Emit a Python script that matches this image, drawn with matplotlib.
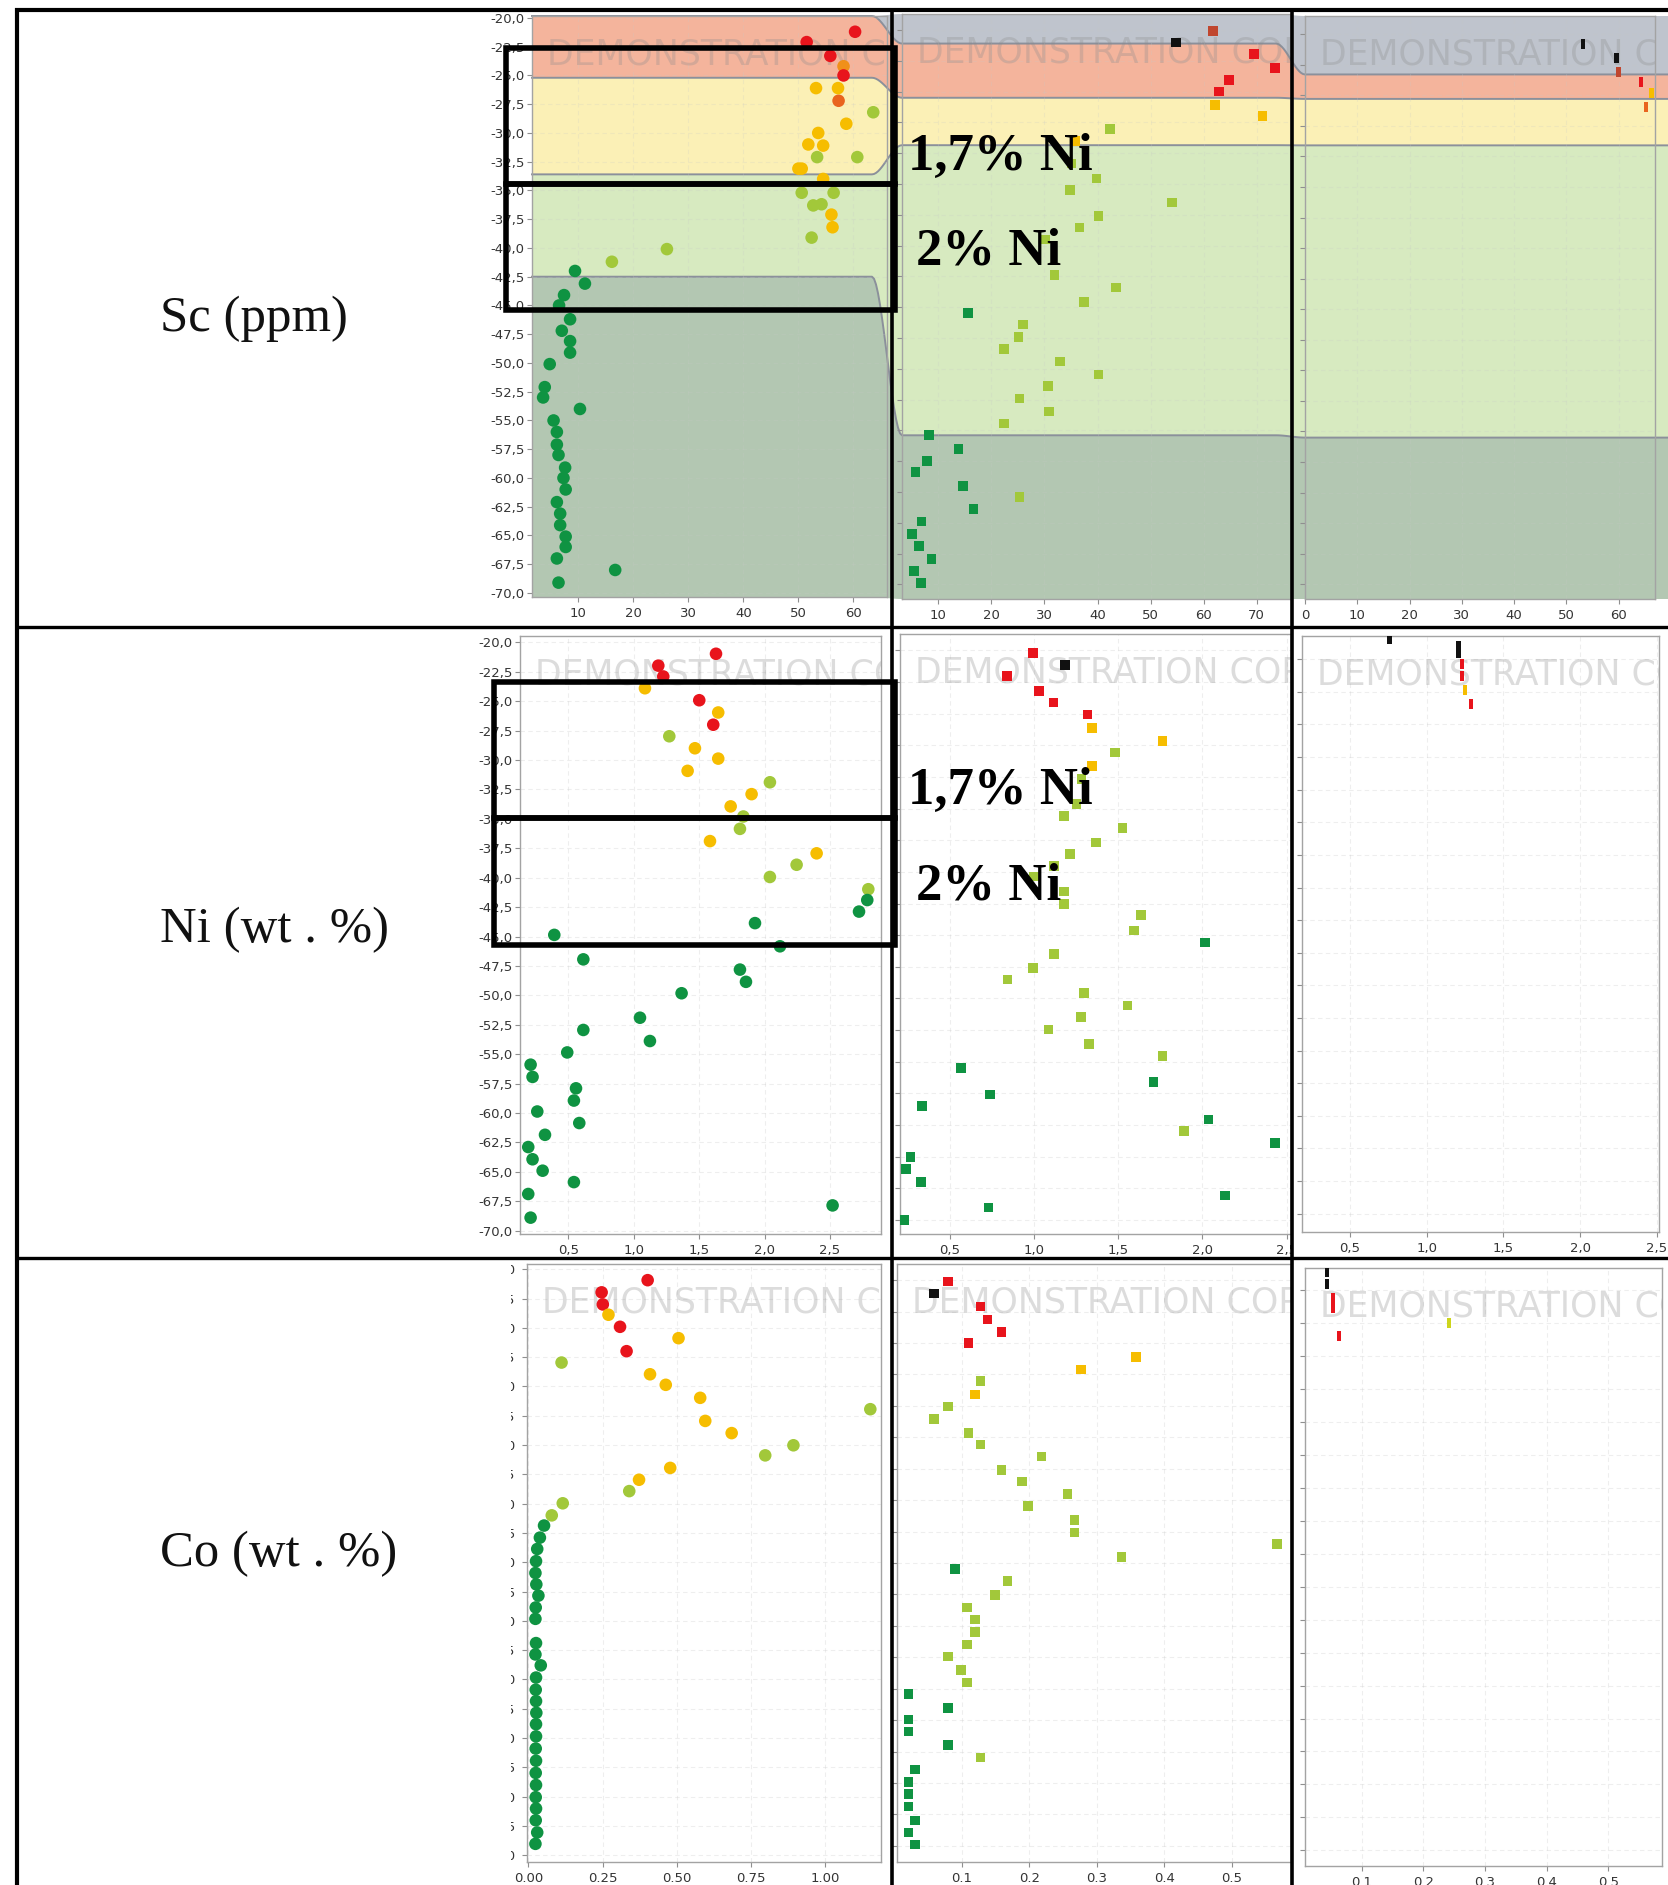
import numpy as np
import matplotlib
matplotlib.use("Agg")
import matplotlib.pyplot as plt
from matplotlib.patches import Rectangle
from matplotlib.transforms import Bbox, TransformedBbox

W, H, DPI = 1668, 1885, 100

# ------------------------------------------------------------------ data
# grade classes: R red, B brick, O red-orange, o orange, Y amber,
# g yellow-green, l lime, G green, K black
GRADE_COLOURS = {"R": "#e8141c", "B": "#c0462e", "O": "#e9641e", "o": "#f0901a",
                 "Y": "#f6bd00", "g": "#a2c83a", "l": "#cdd51c", "G": "#0f9342",
                 "K": "#111111"}

# Sc (ppm) against depth (m)
sc_h1_x = [60.3, 51.5, 55.8, 58.2, 58.2, 57.3,
           53.2, 57.2, 58.7, 53.6, 51.8, 54.5, 50.0, 50.6, 54.5, 56.0, 56.2,
           63.6, 53.4, 60.7, 50.6, 52.7, 54.2, 56.4, 52.4, 26.1, 16.1,
           9.4, 11.2, 7.4, 6.5, 8.5, 7.0, 8.5, 8.5, 4.8, 3.9, 3.6, 10.3, 5.5, 6.1,
           6.1, 6.4, 7.6, 7.3, 7.7, 6.1, 6.7, 6.7, 7.7, 7.7, 6.1, 6.4, 16.7]
sc_h1_depth = [-21.2, -22.1, -23.3, -24.2, -25.0, -27.2,
               -26.1, -26.1, -29.2, -30.0, -31.0, -31.1, -33.1, -33.1, -34.0, -37.1, -38.2,
               -28.2, -32.1, -32.1, -35.2, -36.3, -36.2, -35.2, -39.1, -40.1, -41.2,
               -42.0, -43.1, -44.1, -45.0, -46.2, -47.2, -48.1, -49.1, -50.1, -52.1, -53.0,
               -54.0, -55.0, -56.0, -57.1, -58.0, -59.1, -60.0, -61.0, -62.1, -63.1, -64.1,
               -65.1, -66.0, -67.0, -69.1, -68.0]
sc_h1_grade = "RRRoRO" + "Y" * 11 + "g" * 10 + "G" * 27

sc_h2_x = [61.8, 54.8, 69.5, 73.4, 64.8, 62.9, 62.1, 71.1, 35.75,
           42.3, 35.1, 39.8, 34.8, 54.0, 40.2, 36.6, 30.1, 31.9, 43.5, 37.5, 26.0, 25.1,
           22.4, 32.9, 40.2, 30.7, 25.3, 30.85, 22.4, 25.3,
           15.65, 8.3, 13.8, 7.9, 5.67, 14.6, 16.6, 6.86, 5.1, 6.4, 8.74, 5.4, 6.7]
sc_h2_depth = [-20.1, -21.0, -21.96, -23.1, -24.07, -24.99, -26.1, -27.0, -29.03,
               -28.05, -30.85, -32.06, -32.97, -34.0, -35.1, -36.04, -37.0, -39.9, -40.9,
               -42.07, -43.9, -44.93, -45.9, -46.9, -47.97, -48.9, -49.9, -50.96, -51.94,
               -57.9,
               -42.98, -52.9, -54.0, -54.97, -55.9, -57.0, -58.9, -59.9, -60.9, -61.9,
               -62.93, -63.9, -64.88]
sc_h2_grade = "BKRRRRYYY" + "g" * 21 + "G" * 13

sc_h3_x = [53.2, 59.6, 60.0, 64.3, 65.3, 66.3]
sc_h3_depth = [-20.8, -21.97, -23.06, -23.94, -26.0, -24.8]
sc_h3_grade = "KKBROY"

# Ni (wt %) against depth (m)
ni_h1_x = [1.629, 1.188, 1.226, 1.501, 1.608,
           1.086, 1.646, 1.468, 1.646, 1.412, 1.901, 1.741, 1.583, 2.398,
           1.272, 2.041, 1.838, 1.812, 2.245, 2.041, 2.793,
           2.785, 2.722, 1.927, 0.393, 2.118, 0.615, 1.812, 1.858, 1.366, 1.048, 1.124,
           0.615, 0.492, 0.212, 0.227, 0.559, 0.543, 0.263, 0.584, 0.322, 0.194, 0.227,
           0.304, 0.543, 0.194, 0.212, 2.52]
ni_h1_depth = [-20.97, -21.98, -22.9, -24.92, -27.0,
               -23.9, -25.96, -29.0, -29.88, -30.92, -32.9, -33.94, -36.89, -37.93,
               -27.98, -31.89, -34.8, -35.85, -38.9, -39.94, -40.98,
               -41.9, -42.88, -43.86, -44.86, -45.83, -46.94, -47.81, -48.85, -49.82,
               -51.9, -53.88, -52.94, -54.85, -55.89, -56.93, -57.9, -58.94, -59.87,
               -60.85, -61.85, -62.89, -63.93, -64.9, -65.87, -66.88, -68.89, -67.85]
ni_h1_grade = "RRRRR" + "Y" * 9 + "g" * 7 + "G" * 27

ni_h2_x = [0.995, 0.837, 1.029, 1.114, 1.316, 1.183, 1.342, 1.763, 1.342,
           1.48, 1.282, 1.252, 1.177, 1.525, 1.367, 1.212, 1.118, 0.999, 1.177, 1.177,
           1.633, 1.595, 1.118, 0.995, 0.841, 1.297, 1.554, 1.277, 1.085, 1.327, 1.763,
           1.89,
           2.015, 0.565, 0.737, 1.708, 0.332, 2.035, 2.431, 0.266, 0.237, 0.326, 2.134,
           0.728, 0.227]
ni_h2_depth = [-20.19, -22.0, -23.2, -24.1, -25.05, -21.16, -26.11, -27.15, -29.14,
               -28.07, -30.16, -32.16, -33.07, -34.04, -35.17, -36.08, -37.05, -37.86,
               -39.06, -40.03, -40.93, -42.13, -44.01, -45.11, -46.01, -47.05, -48.05,
               -48.99, -49.96, -51.1, -52.07, -57.99,
               -43.08, -53.0, -55.1, -54.1, -56.0, -57.08, -58.95, -60.03, -61.0, -62.03,
               -63.09, -64.03, -65.0]
ni_h2_grade = "RRRRRKYYY" + "g" * 23 + "G" * 13

ni_h3_x = [0.757, 1.207, 1.207, 1.228, 1.228, 1.25, 1.289]
ni_h3_depth = [-18.44, -18.97, -19.53, -20.4, -21.25, -22.34, -23.44]
ni_h3_grade = "KKKRRYR"

# Co (wt %) against depth (m)
co_h1_x = [0.402, 0.247, 0.251, 0.309, 0.331,
           0.270, 0.506, 0.410, 0.463, 0.579, 0.596, 0.685, 0.478, 0.373,
           0.112, 1.152, 0.893, 0.798, 0.340, 0.116, 0.079,
           0.053, 0.039, 0.030, 0.026, 0.024, 0.027, 0.034, 0.025, 0.024, 0.026, 0.024,
           0.042, 0.026, 0.025, 0.026, 0.027, 0.026, 0.026, 0.025, 0.026, 0.025, 0.026,
           0.025, 0.026, 0.025, 0.030, 0.024]
co_h1_depth = [-20.93, -21.97, -23.0, -24.91, -26.99,
               -23.88, -25.88, -28.96, -29.86, -30.97, -32.94, -33.98, -36.95, -37.96,
               -27.96, -31.94, -35.02, -35.88, -38.93, -39.97, -41.0,
               -41.87, -42.9, -43.87, -44.91, -45.92, -46.89, -47.85, -48.86, -49.83,
               -51.9, -52.87, -53.8, -54.84, -55.88, -56.85, -57.85, -58.82, -59.86,
               -60.9, -61.94, -62.98, -64.01, -65.05, -66.02, -67.02, -68.06, -69.03]
co_h1_grade = "RRRRR" + "Y" * 9 + "g" * 7 + "G" * 27

co_h2_x = [0.080, 0.128, 0.138, 0.159, 0.110, 0.059, 0.358, 0.277, 0.120,
           0.128, 0.080, 0.059, 0.110, 0.128, 0.218, 0.159, 0.189, 0.257, 0.198, 0.267,
           0.267, 0.567, 0.337, 0.168, 0.149, 0.108, 0.120, 0.120, 0.108, 0.080, 0.099,
           0.108, 0.128,
           0.090, 0.021, 0.080, 0.021, 0.021, 0.080, 0.031, 0.021, 0.021, 0.021, 0.031,
           0.021, 0.031]
co_h2_depth = [-20.1, -22.1, -23.13, -24.1, -25.0, -21.06, -26.13, -27.1, -29.1,
               -28.0, -30.06, -31.03, -32.16, -33.06, -34.03, -35.1, -36.03, -37.0, -37.97,
               -39.1, -40.06, -40.97, -42.03, -43.94, -45.06, -46.03, -47.0, -48.0, -48.97,
               -49.94, -51.03, -52.0, -57.97,
               -43.0, -52.9, -54.03, -54.94, -55.9, -57.0, -58.94, -59.94, -60.9, -61.87,
               -63.0, -63.94, -64.9]
co_h2_grade = "RRRRRKYYY" + "g" * 24 + "G" * 13

co_h3_x = [0.0432, 0.0432, 0.053, 0.053, 0.0632, 0.242]
co_h3_depth = [-18.62, -19.54, -20.55, -21.38, -23.48, -22.52]
co_h3_grade = "KKRRRl"

# weathering-profile zones behind the Sc logs (top of each zone below the cover)
zone_colours = ["#bfc4cd", "#f4b49c", "#fbf0b6", "#d7eac0", "#b3c7b2"]
zone_contacts_h1 = [-19.8, -25.2, -33.6, -42.5]
zone_contacts_h2 = [-21.1, -25.5, -29.35, -52.9]
zone_contacts_h3 = [-23.3, -25.3, -29.1, -53.0]

row_titles = ["Sc (ppm)", "Ni (wt . %)", "Co (wt . %)"]
cutoff_labels = ["1,7% Ni", "2% Ni"]
# depth windows of the cut-off boxes, Sc log and Ni log of hole 1
sc_cutoff_depths = [(-22.6, -34.4), (-34.4, -45.4)]
ni_cutoff_depths = [(-23.4, -34.9), (-34.9, -45.7)]
watermark = "DEMONSTRATION COPY"


# ------------------------------------------------------------------ helpers
def int_fmt(v):
    return str(int(round(v)))


def comma1(v):
    return f"{v:.1f}".replace(".", ",")


def dot2(v):
    return f"{v:.2f}"


def dot1(v):
    return f"{v:.1f}"


fig = plt.figure(figsize=(W / DPI, H / DPI), dpi=DPI)
fig.patch.set_facecolor("white")

RECT_MARKER = [(-0.42, -1), (0.42, -1), (0.42, 1), (-0.42, 1), (-0.42, -1)]


def add_panel(box, xlim, ylim, xticks, xfmt, ylabels, kind, data, transparent):
    l, t, r, b = box
    ax = fig.add_axes([l / W, 1 - b / H, (r - l) / W, (b - t) / H], zorder=2)
    ax.set_xlim(*xlim)
    ax.set_ylim(*ylim)
    ax.set_facecolor("none" if transparent else "white")
    for s in ax.spines.values():
        s.set_color("#a3a3a3")
        s.set_linewidth(1.0)
    ax.tick_params(direction="out", length=3.5, width=0.8, color="#8f8f8f",
                   labelsize=9.5, labelcolor="#343434")
    ax.tick_params(axis="y", pad=2)
    ax.tick_params(axis="x", pad=4)
    ax.set_xticks(xticks)
    ax.set_xticklabels([xfmt(v) for v in xticks])
    yt = np.arange(-20.0, ylim[0] - 1e-9, -2.5)
    ax.set_yticks(yt)
    if ylabels:
        ax.set_yticklabels([comma1(v) for v in yt])
    else:
        ax.set_yticklabels([])
    ax.grid(True, color="#c8c8c8", lw=0.8, ls=(0, (4, 3)),
            alpha=0.22 if transparent else 0.3)
    ax.set_axisbelow(True)

    x, d, g = data
    cols = [GRADE_COLOURS[c] for c in g]
    if kind == "circle":
        ax.scatter(x, d, s=82, c=cols, marker="o", linewidths=0, zorder=3)
    elif kind == "square":
        ax.scatter(x, d, s=48, c=cols, marker="s", linewidths=0, zorder=3)
    else:
        ax.scatter(x, d, s=52, c=cols, marker=RECT_MARKER, linewidths=0, zorder=3)

    ax.annotate(watermark, xy=(0, 1), xycoords="axes fraction",
                xytext=(10.8, -28.0), textcoords="offset points",
                ha="left", va="center", fontsize=25, color="#8c8c8c", alpha=0.30,
                clip_on=True, zorder=2.5)
    return ax


A1 = add_panel((532, 16, 887, 597), (1.58, 66.1), (-70.35, -19.83),
               [10, 20, 30, 40, 50, 60], int_fmt, True, "circle",
               (sc_h1_x, sc_h1_depth, sc_h1_grade), True)
B1 = add_panel((902, 14, 1291, 599), (3.16, 76.46), (-66.19, -18.70),
               [10, 20, 30, 40, 50, 60, 70], int_fmt, False, "square",
               (sc_h2_x, sc_h2_depth, sc_h2_grade), True)
C1 = add_panel((1305, 16, 1655, 599), (0.32, 66.98), (-66.2, -18.52),
               [0, 10, 20, 30, 40, 50, 60], int_fmt, False, "rect",
               (sc_h3_x, sc_h3_depth, sc_h3_grade), True)

A2 = add_panel((520, 636, 881, 1234), (0.131, 2.89), (-70.28, -19.46),
               [0.5, 1.0, 1.5, 2.0, 2.5], comma1, True, "circle",
               (ni_h1_x, ni_h1_depth, ni_h1_grade), False)
B2 = add_panel((900, 634, 1291, 1234), (0.203, 2.526), (-66.12, -18.7),
               [0.5, 1.0, 1.5, 2.0, 2.5], comma1, False, "square",
               (ni_h2_x, ni_h2_depth, ni_h2_grade), False)
C2 = add_panel((1302, 636, 1659, 1232), (0.187, 2.515), (-63.9, -18.22),
               [0.5, 1.0, 1.5, 2.0, 2.5], comma1, False, "rect",
               (ni_h3_x, ni_h3_depth, ni_h3_grade), False)

A3 = add_panel((527, 1264, 881, 1862), (-0.0044, 1.188), (-70.58, -19.55),
               [0.0, 0.25, 0.5, 0.75, 1.0], dot2, True, "circle",
               (co_h1_x, co_h1_depth, co_h1_grade), False)
B3 = add_panel((897, 1264, 1291, 1862), (0.0041, 0.588), (-66.29, -18.71),
               [0.1, 0.2, 0.3, 0.4, 0.5], dot1, False, "square",
               (co_h2_x, co_h2_depth, co_h2_grade), False)
C3 = add_panel((1305, 1268, 1662, 1866), (0.008, 0.587), (-63.69, -18.31),
               [0.1, 0.2, 0.3, 0.4, 0.5], dot1, False, "rect",
               (co_h3_x, co_h3_depth, co_h3_grade), False)

A3.tick_params(axis="y", pad=5)


def clip_texts(texts, x0, x1):
    bb = TransformedBbox(Bbox([[x0 / W, 0.0], [x1 / W, 1.0]]), fig.transFigure)
    for t in texts:
        t.set_clip_box(bb)
        t.set_clip_on(True)


# the Co labels of hole 1 sit partly under the neighbouring cell
clip_texts(A3.get_yticklabels(), 511, 530)
for ax in (B1, B2, B3):
    clip_texts(ax.get_xticklabels(), 893, 1291)


# ------------------------------------------------------------------ zone bands
bg = fig.add_axes([0, 0, 1, 1], zorder=0)
bg.set_xlim(0, W)
bg.set_ylim(H, 0)
bg.axis("off")


def depth_px(ax, d):
    lo, hi = ax.get_ylim()
    d = min(max(d, lo), hi)
    return H - ax.transData.transform((ax.get_xlim()[0], d))[1]


def boundary(axs, depths, lead=15, n=16):
    xs, ys = [], []
    boxes = [a.get_position() for a in axs]
    for i, (a, d) in enumerate(zip(axs, depths)):
        y = depth_px(a, d)
        if i == 0:
            xs.append(boxes[i].x0 * W)
            ys.append(y)
        if i < len(axs) - 1:
            xe = boxes[i].x1 * W - lead
            xs.append(xe)
            ys.append(y)
            xn = boxes[i + 1].x0 * W
            yn = depth_px(axs[i + 1], depths[i + 1])
            t = np.linspace(0, 1, n)[1:]
            s = t * t * (3 - 2 * t)
            xs.extend(xe + t * (xn - xe))
            ys.extend(y + s * (yn - y))
        else:
            xs.append(W)
            ys.append(y)
    return np.array(xs), np.array(ys)


row1 = [A1, B1, C1]
contacts = [zone_contacts_h1, zone_contacts_h2, zone_contacts_h3]
levels = []
levels.append([a.get_ylim()[1] for a in row1])
for k in range(4):
    levels.append([c[k] for c in contacts])
levels.append([a.get_ylim()[0] for a in row1])
paths = [boundary(row1, lv) for lv in levels]

for k, col in enumerate(zone_colours):
    xu, yu = paths[k]
    xl, yl = paths[k + 1]
    bg.fill(np.concatenate([xu, xl[::-1]]), np.concatenate([yu, yl[::-1]]),
            color=col, lw=0)
for k in range(1, 5):
    xs, ys = paths[k]
    bg.plot(xs, ys, color="#8b909b", lw=1.4)

# ------------------------------------------------------------------ table frame and notes
ov = fig.add_axes([0, 0, 1, 1], zorder=10)
ov.set_xlim(0, W)
ov.set_ylim(H, 0)
ov.axis("off")
ov.patch.set_alpha(0)

col_x = [892, 1292]
row_y = [627, 1258]
title_y = [319, 930, 1554]
ov.plot([15, W], [10, 10], color="k", lw=3.0, solid_capstyle="butt")
ov.plot([17, 17], [8, H], color="k", lw=3.0, solid_capstyle="butt")
for y in row_y:
    ov.plot([17, W], [y, y], color="k", lw=2.4, solid_capstyle="butt")
for x in col_x:
    ov.plot([x, x], [10, H], color="k", lw=2.6, solid_capstyle="butt")

for yc, title in zip(title_y, row_titles):
    ov.text(160, yc, title, fontsize=36.5, family="Liberation Serif",
            ha="left", va="center", color="#111111")

for ax, windows in ((A1, sc_cutoff_depths), (A2, ni_cutoff_depths)):
    x0 = ax.get_position().x0 * W - 26
    x1 = col_x[0] + 3
    for i, ((d_top, d_bot), lab) in enumerate(zip(windows, cutoff_labels)):
        yt, yb = depth_px(ax, d_top), depth_px(ax, d_bot)
        ov.add_patch(Rectangle((x0, yt), x1 - x0, yb - yt, fill=False,
                               ec="k", lw=4.0))
        ty = yb - 27 if i == 0 else (yt + yb) / 2 + 5
        tx = col_x[0] + (16 if i == 0 else 24)
        ov.text(tx, ty, lab, fontsize=38, fontweight="bold",
                family="Liberation Serif", ha="left", va="center", color="k")

fig.savefig("out.png", dpi=DPI, facecolor="white")
